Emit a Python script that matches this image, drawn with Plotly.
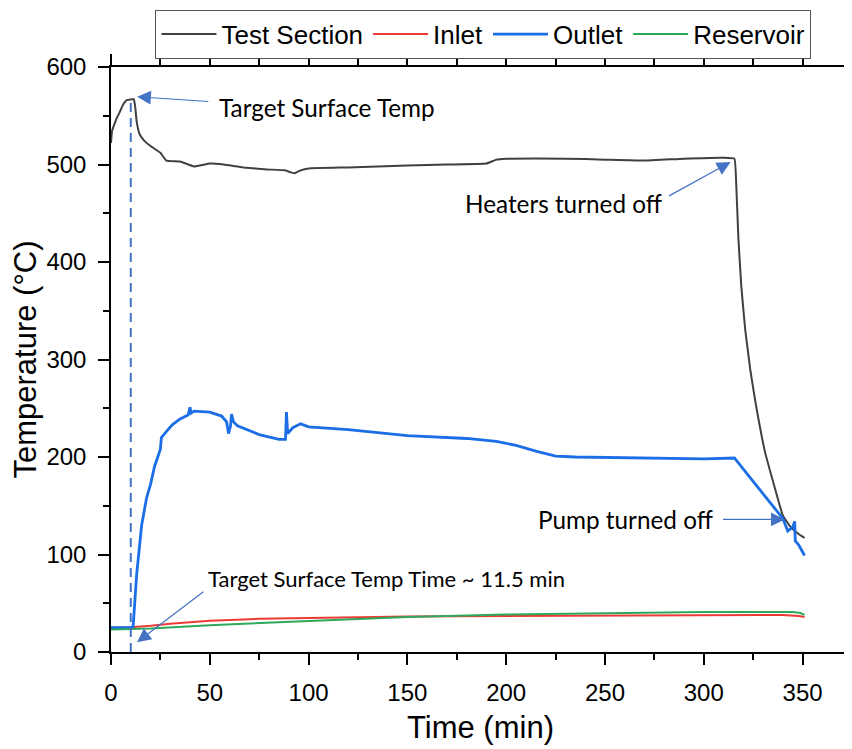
import plotly.graph_objects as go

# ---------------- data ----------------
ts_time = [0, 0.5, 2, 3, 4.5, 6, 8, 11.5, 12.2, 13, 14.5, 17, 20, 25, 28, 35, 42, 50, 57, 67,
           79, 88, 91, 93, 96, 100, 120, 150, 170, 190, 195, 200, 230, 250, 270, 290, 310,
           315.5, 316.5, 317.5, 319, 321, 323.5, 326, 331, 336, 340, 344, 348, 351]
ts_temp = [522, 534, 543, 548, 554, 561, 566, 567, 560, 544, 531, 524, 519, 512, 504, 503, 498,
           501, 500, 497, 495, 494, 492, 491, 494, 496, 497, 499, 500, 501, 505, 506, 506, 505,
           504, 506, 507, 506, 476, 425, 375, 330, 290, 258, 205, 168, 140, 128, 121, 117]

inlet_time = [0, 10, 20, 30, 50, 75, 100, 150, 200, 250, 300, 340, 348, 351]
inlet_temp = [25, 25.5, 27, 29, 32, 34, 35, 36.5, 37, 37.5, 38, 38, 37, 36]

outlet_time = [0, 10, 11.2, 12, 13, 15.5, 18, 20, 22, 25, 25.5, 28, 31, 35, 39, 40, 40.5, 42,
               50, 56, 58.5, 59.5, 60.5, 61, 62, 64, 75, 85, 88.3, 88.8, 89.4, 92, 96, 100,
               120, 150, 180, 195, 205, 215, 225, 235, 260, 300, 315.5, 321.5, 328, 335, 340,
               342.5, 345, 346, 346.3, 348, 351]
outlet_temp = [25, 25, 26, 50, 80, 130, 158, 172, 190, 208, 220, 226, 233, 239, 243, 251, 245,
               247, 246, 242, 236, 224, 232, 244, 236, 232, 223, 218, 218, 246, 224, 230, 234,
               231, 228, 222, 219, 216, 212, 206, 201, 200, 199, 198, 199, 184, 167, 150, 137,
               124, 128, 134, 114, 110, 99]

res_time = [0, 10, 20, 50, 75, 100, 150, 200, 250, 300, 345, 349, 351]
res_temp = [23, 23.5, 24, 27.5, 29.5, 31.5, 36, 38.5, 40, 41, 41, 40, 38]

x_ticks = [0, 50, 100, 150, 200, 250, 300, 350]
y_ticks = [0, 100, 200, 300, 400, 500, 600]

target_time = 10
target_temp = 566

ANN = "#4472c4"
TXT_BIG = dict(family="Lato, Carlito, sans-serif", size=24.3, color="black")
TXT_SMALL = dict(family="Lato, Carlito, sans-serif", size=22, color="black")
AX_FONT = "Liberation Sans, Arial, sans-serif"

fig = go.Figure()
fig.add_trace(go.Scatter(x=ts_time, y=ts_temp, mode="lines", name="Test Section",
                         line=dict(color="#404040", width=2, shape="spline", smoothing=0.3)))
fig.add_trace(go.Scatter(x=inlet_time, y=inlet_temp, mode="lines", name="Inlet",
                         line=dict(color="#ec3b35", width=2)))
fig.add_trace(go.Scatter(x=outlet_time, y=outlet_temp, mode="lines", name="Outlet",
                         line=dict(color="#1b6ee6", width=2.8)))
fig.add_trace(go.Scatter(x=res_time, y=res_temp, mode="lines", name="Reservoir",
                         line=dict(color="#2ea85a", width=2)))

# dashed vertical marker
fig.add_shape(type="line", x0=target_time, x1=target_time, y0=0, y1=target_temp,
              xref="x", yref="y", line=dict(color=ANN, width=2, dash="9px,6px"))

def arrow(x, y, ax, ay):
    fig.add_annotation(x=x, y=y, ax=ax, ay=ay, xref="x", yref="y", axref="x", ayref="y",
                       text="", showarrow=True, arrowhead=2, arrowsize=2.3,
                       arrowwidth=1.2, arrowcolor=ANN, standoff=0)

def label(x, y, text, font):
    fig.add_annotation(x=x, y=y, xref="x", yref="y", text=text, showarrow=False,
                       xanchor="left", yanchor="middle", font=font)

arrow(13.2, 569.5, 50, 564.5)
label(53.5, 558.5, "Target Surface Temp", TXT_BIG)
arrow(313.6, 502.5, 281.7, 467)
label(178, 459.8, "Heaters turned off", TXT_BIG)
arrow(341, 136, 309, 136)
label(215, 136.3, "Pump turned off", TXT_BIG)
arrow(13.2, 10, 47.5, 63)
label(48, 75.3, "Target Surface Temp Time ~ 11.5 min", TXT_SMALL)

# page body adds an 8px offset, so the figure is sized/margined to compensate
fig.update_layout(
    width=844, height=741,
    margin=dict(l=103, r=2, t=54, b=97),
    plot_bgcolor="white", paper_bgcolor="white",
    font=dict(family=AX_FONT, color="black"),
    showlegend=True,
    legend=dict(orientation="h", x=0.504, xanchor="center", y=1.098, yanchor="top",
                xref="paper", yref="paper",
                bordercolor="#555555", borderwidth=1, bgcolor="white",
                font=dict(family=AX_FONT, size=26, color="black"),
                itemwidth=55, tracegroupgap=0),
)

fig.update_xaxes(range=[0, 374], tickmode="array", tickvals=x_ticks,
                 ticktext=[str(v) for v in x_ticks], automargin=False,
                 ticks="outside", ticklen=11, tickwidth=1.5, tickcolor="black",
                 minor=dict(dtick=25, tick0=0, ticks="outside", ticklen=6, tickwidth=1.5,
                            tickcolor="black"),
                 showline=True, linecolor="black", linewidth=1.5, mirror="ticks",
                 showgrid=False, zeroline=False, ticklabelstandoff=7,
                 tickfont=dict(family=AX_FONT, size=24),
                 title=dict(text="Time (min)", font=dict(family=AX_FONT, size=31), standoff=12))

fig.update_yaxes(range=[0, 600], tickmode="array", tickvals=y_ticks,
                 ticktext=[str(v) for v in y_ticks], automargin=False,
                 ticks="outside", ticklen=11, tickwidth=1.5, tickcolor="black",
                 minor=dict(dtick=50, tick0=0, ticks="outside", ticklen=6, tickwidth=1.5,
                            tickcolor="black"),
                 showline=True, linecolor="black", linewidth=1.5, mirror=True,
                 showgrid=False, zeroline=False, ticklabelstandoff=7,
                 tickfont=dict(family=AX_FONT, size=24),
                 title=dict(text="Temperature (°C)", font=dict(family=AX_FONT, size=31),
                            standoff=14))

fig.write_html("out.html")
